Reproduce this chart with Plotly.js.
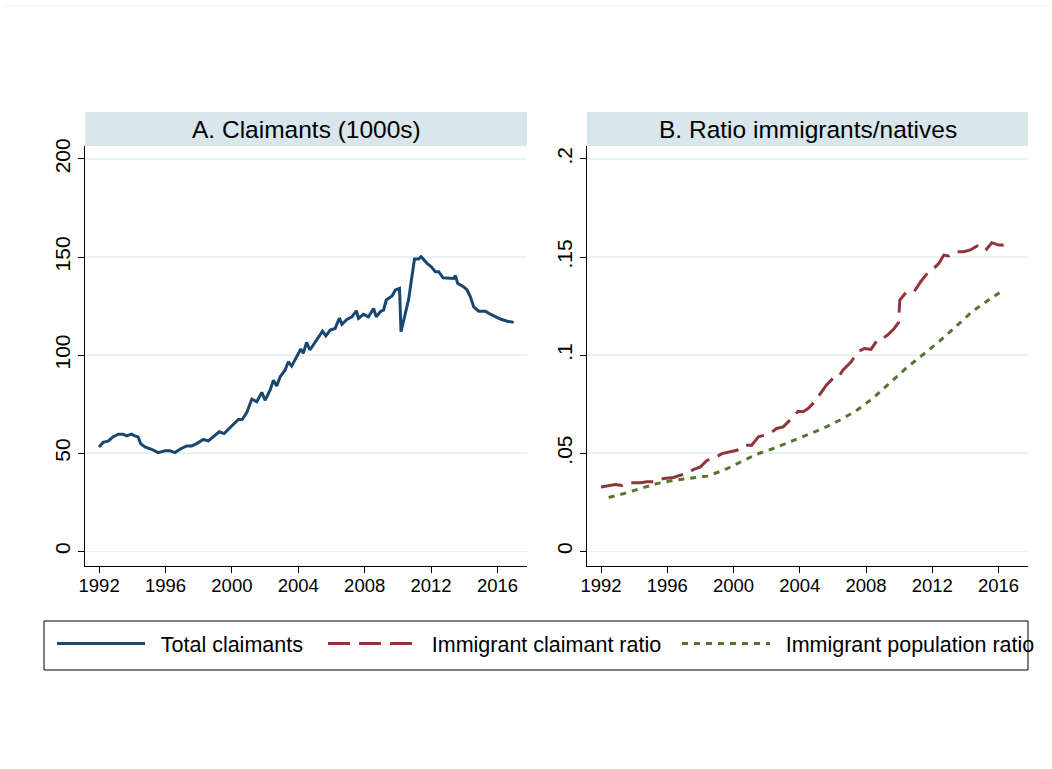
<!DOCTYPE html>
<html>
<head>
<meta charset="utf-8">
<script src="https://cdn.plot.ly/plotly-3.0.1.min.js"></script>
<style>html,body{margin:0;padding:0;background:#fff}#chart{width:1052px;height:769px}</style>
</head>
<body>
<div id="chart"></div>
<script>
// Panel A: total claimants (1000s)
const claimYears = [1992.0,1992.24,1992.54,1992.84,1993.15,1993.45,1993.65,1993.96,1994.15,1994.35,1994.5,1994.76,1995.16,1995.56,1995.96,1996.27,1996.57,1996.87,1997.27,1997.58,1997.88,1998.28,1998.58,1998.88,1999.24,1999.53,1999.79,2000.09,2000.39,2000.63,2000.9,2001.2,2001.5,2001.8,2002.0,2002.3,2002.5,2002.7,2002.9,2003.2,2003.4,2003.6,2003.9,2004.15,2004.3,2004.5,2004.7,2004.9,2005.16,2005.46,2005.66,2005.92,2006.22,2006.48,2006.63,2006.93,2007.23,2007.5,2007.63,2007.93,2008.23,2008.54,2008.7,2008.94,2009.14,2009.3,2009.65,2009.85,2010.1,2010.19,2010.65,2011.0,2011.25,2011.4,2011.76,2012.0,2012.26,2012.46,2012.72,2013.06,2013.36,2013.47,2013.6,2013.97,2014.17,2014.37,2014.57,2014.87,2015.28,2015.48,2015.88,2016.18,2016.59,2016.98];
const totalClaimants = [53.2,55.5,56.1,58.3,59.7,59.7,58.8,59.7,58.8,58.3,54.9,53.2,52.0,50.3,51.2,51.2,50.3,52.0,53.7,53.7,54.9,57.0,56.3,58.3,60.9,60.0,62.2,65.1,67.2,67.3,70.8,77.6,76.2,81.0,77.0,82.1,87.2,84.2,88.9,92.3,96.6,94.4,99.1,103.1,100.9,106.5,102.6,105.1,108.0,112.2,109.8,112.8,113.6,118.9,115.7,118.2,119.5,122.6,118.7,120.8,119.5,123.8,119.5,122.1,123.0,128.1,130.1,133.2,134.0,111.9,128.5,149.0,149.0,150.2,146.8,145.1,142.5,142.5,139.4,139.1,139.1,140.5,136.6,134.8,133.2,129.7,124.6,122.4,122.4,121.3,119.5,118.4,117.3,116.7];

// Panel B: immigrant claimant ratio
const ratioYears = [1992.0,1992.36,1992.86,1993.27,1993.67,1994.37,1994.78,1995.18,1995.48,1995.78,1996.38,1996.79,1997.2,1997.6,1998.0,1998.4,1998.8,1999.3,1999.7,2000.2,2000.7,2001.1,2001.5,2002.2,2002.6,2003.0,2003.5,2003.9,2004.2,2004.5,2004.9,2005.2,2005.6,2006.0,2006.3,2006.6,2007.1,2007.5,2007.9,2008.3,2008.7,2009.0,2009.3,2009.7,2009.96,2010.04,2010.4,2010.9,2011.3,2011.7,2012.0,2012.4,2012.7,2013.0,2013.5,2013.9,2014.3,2014.7,2015.1,2015.2,2015.6,2016.0,2016.3,2016.7,2016.75];
const claimantRatio = [0.0328,0.0332,0.0340,0.0335,0.0349,0.0350,0.0354,0.0354,0.0359,0.0371,0.0376,0.0388,0.0396,0.0418,0.0430,0.0464,0.0473,0.0498,0.0507,0.0515,0.0541,0.0541,0.0583,0.0600,0.0626,0.0634,0.0677,0.0714,0.0711,0.0728,0.0762,0.0801,0.0847,0.0881,0.0884,0.0923,0.0966,0.1017,0.1034,0.1029,0.1080,0.1085,0.1102,0.1136,0.1165,0.1281,0.1318,0.1323,0.1374,0.1417,0.1434,0.1468,0.1510,0.1505,0.1527,0.1527,0.1536,0.1556,0.1532,0.1532,0.1573,0.1561,0.1561,0.1578,0.1573];

// Panel B: immigrant population ratio
const popYears = [1992.46,1993.37,1994.37,1995.38,1996.38,1997.4,1998.4,1999.4,2000.4,2001.4,2002.4,2003.4,2004.4,2005.4,2006.4,2007.4,2008.4,2009.4,2010.4,2011.4,2012.4,2013.4,2014.4,2015.4,2016.3];
const popRatio = [0.0274,0.0294,0.0320,0.0345,0.0362,0.0374,0.0383,0.0413,0.0456,0.0495,0.0524,0.0558,0.0592,0.0626,0.0668,0.0716,0.0779,0.0856,0.0932,0.1000,0.1068,0.1144,0.1221,0.1281,0.1332];

const xTicks = [1992,1996,2000,2004,2008,2012,2016];
const yTicksA = [0,50,100,150,200];
const yTicksB = [0,0.05,0.1,0.15,0.2];
const yTickTextB = ['0','.05','.1','.15','.2'];
const seriesNames = ['Total claimants','Immigrant claimant ratio','Immigrant population ratio'];
const panelTitles = ['A. Claimants (1000s)','B. Ratio immigrants/natives'];

const FONT = 'Liberation Sans, Arial, sans-serif';
const W = 1052, H = 769;
const px = v => v / W;
const py = v => 1 - v / H;
const SP = '\u2002'; // en space used for legend padding
const TSP = '\u2009'; // thin space

const dA = [px(85), px(527)];
const dB = [px(587), px(1028)];
const dY = [py(566), py(146)];

const traces = [
  {x: claimYears, y: totalClaimants, type: 'scatter', mode: 'lines', name: SP + seriesNames[0] + SP + TSP,
   line: {color: '#1a476f', width: 3}, xaxis: 'x', yaxis: 'y'},
  {x: ratioYears, y: claimantRatio, type: 'scatter', mode: 'lines', name: SP + seriesNames[1] + SP,
   line: {color: '#90353b', width: 3, dash: '22px,9px'}, xaxis: 'x2', yaxis: 'y2'},
  {x: popYears, y: popRatio, type: 'scatter', mode: 'lines', name: SP + seriesNames[2],
   line: {color: '#55752f', width: 3, dash: '6px,6px'}, xaxis: 'x2', yaxis: 'y2'}
];

const xCommon = {
  range: [1991.15, 2017.78], tickvals: xTicks, ticks: 'outside', ticklen: 6, tickcolor: '#000',
  showline: true, linecolor: '#000', linewidth: 1, showgrid: false, zeroline: false, ticklabelstandoff: -3,
  tickfont: {family: FONT, size: 18.5, color: '#000'}, fixedrange: true
};
const yCommon = {
  ticks: 'outside', ticklen: 6, tickcolor: '#000', tickangle: -90,
  showline: true, linecolor: '#000', linewidth: 1, showgrid: true, gridcolor: '#eaf2f3', gridwidth: 1.5,
  zeroline: false, tickfont: {family: FONT, size: 21, color: '#000'}, fixedrange: true
};

const layout = {
  width: W, height: H,
  margin: {l: 0, r: 0, t: 0, b: 0},
  paper_bgcolor: '#fff', plot_bgcolor: '#fff',
  font: {family: FONT, color: '#000'},
  showlegend: true,
  xaxis: Object.assign({}, xCommon, {domain: dA, anchor: 'y'}),
  yaxis: Object.assign({}, yCommon, {domain: dY, anchor: 'x', range: [-7.5, 206.6], tickvals: yTicksA}),
  xaxis2: Object.assign({}, xCommon, {domain: dB, anchor: 'y2'}),
  yaxis2: Object.assign({}, yCommon, {domain: dY, anchor: 'x2', range: [-0.0075, 0.2066], tickvals: yTicksB, ticktext: yTickTextB}),
  legend: {
    orientation: 'h', x: px(52), xanchor: 'left', y: py(623), yanchor: 'top',
    bgcolor: 'rgba(0,0,0,0)', borderwidth: 0, itemwidth: 88,
    font: {family: FONT, size: 21.5, color: '#000'}, traceorder: 'normal'
  },
  shapes: [
    {type: 'rect', xref: 'paper', yref: 'paper', x0: dA[0], x1: dA[1], y0: dY[1], y1: py(112), fillcolor: '#d9e6eb', line: {width: 0}, layer: 'below'},
    {type: 'rect', xref: 'paper', yref: 'paper', x0: dB[0], x1: dB[1], y0: dY[1], y1: py(112), fillcolor: '#d9e6eb', line: {width: 0}, layer: 'below'},
    {type: 'rect', xref: 'paper', yref: 'paper', x0: px(44), x1: px(1028), y0: py(670), y1: py(621), fillcolor: 'rgba(0,0,0,0)', line: {color: '#000', width: 1}},
    {type: 'line', xref: 'paper', yref: 'paper', x0: px(4), x1: 1, y0: py(6), y1: py(6), line: {color: '#eaf2f3', width: 1}}
  ],
  annotations: [
    {xref: 'paper', yref: 'paper', x: (dA[0] + dA[1]) / 2, y: py(129), xanchor: 'center', yanchor: 'middle', showarrow: false,
     text: panelTitles[0], font: {family: FONT, size: 24.5, color: '#000'}},
    {xref: 'paper', yref: 'paper', x: (dB[0] + dB[1]) / 2, y: py(129), xanchor: 'center', yanchor: 'middle', showarrow: false,
     text: panelTitles[1], font: {family: FONT, size: 24.5, color: '#000'}}
  ]
};

Plotly.newPlot('chart', traces, layout, {displayModeBar: false, staticPlot: true});
</script>
</body>
</html>
